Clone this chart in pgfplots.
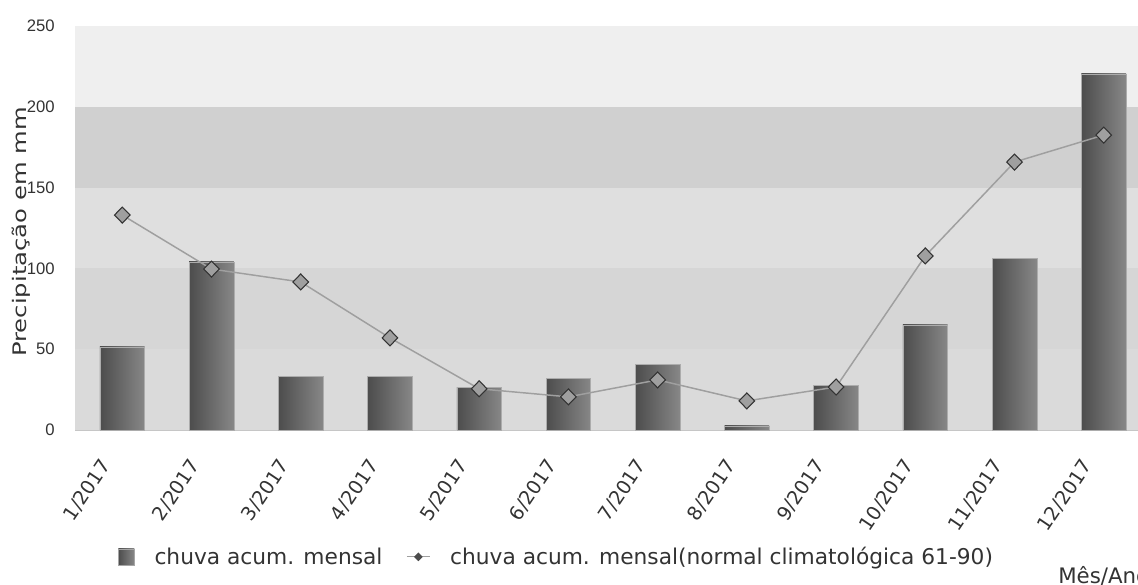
\documentclass[border=0pt]{standalone}
\usepackage{pgfplots}
\pgfplotsset{compat=1.18}
\usepackage{fontspec}
\setmainfont{DejaVu Sans}
\newfontfamily\lib{Liberation Sans}
\newfontfamily\dej{DejaVu Sans}
\usepackage{graphicx}
\definecolor{bandA}{HTML}{EFEFEF}
\definecolor{bandB}{HTML}{D0D0D0}
\definecolor{bandC}{HTML}{DFDFDF}
\definecolor{bandD}{HTML}{D6D6D6}
\definecolor{bandE}{HTML}{DADADA}
\definecolor{txt}{HTML}{333333}
\pgfplotsset{mybar/.style={ybar, bar width=0.5, bar shift=0pt, draw=gray!65, left color=black!70, right color=black!47}}
\begin{document}
\begin{tikzpicture}
\begin{axis}[
  at={(56.25pt,116.25pt)}, anchor=south west,
  scale only axis, width=807pt, height=303pt,
  xmin=-0.53, xmax=11.53, ymin=0, ymax=250,
  axis line style={draw=gray!45},
  major tick length=0pt,
  ytick={0,50,100,150,200,250},
  xtick={0,...,11},
  xticklabels={1/2017,2/2017,3/2017,4/2017,5/2017,6/2017,7/2017,8/2017,9/2017,10/2017,11/2017,12/2017},
  xticklabel style={font=\dej\fontsize{14.5}{16}\selectfont, text=txt, anchor=east, inner sep=0pt, xshift=-12pt, yshift=-24pt, rotate=56},
  yticklabel style={font=\lib\fontsize{12.5}{14}\selectfont, text=txt, anchor=east, inner sep=0pt, xshift=-15pt},
  /pgf/number format/assume math mode=true,
  ylabel={\scalebox{1.3}[1]{Precipitação em mm}},
  ylabel style={font=\dej\fontsize{14}{16}\selectfont, text=txt, at={(axis description cs:-0.05,0.49)}, anchor=center},
  legend style={at={(axis description cs:0.036,-0.314)}, anchor=west, draw=none, fill=none,
    font=\dej\fontsize{16.3}{18}\selectfont, text=txt, legend columns=2,
    /tikz/every odd column/.append style={column sep=13pt},
    /tikz/every even column/.append style={column sep=16pt}},
  legend cell align=left,
  clip=false,
]
\fill[bandE] (axis cs:-0.53,0) rectangle (axis cs:11.53,50);
\fill[bandD] (axis cs:-0.53,50) rectangle (axis cs:11.53,100);
\fill[bandC] (axis cs:-0.53,100) rectangle (axis cs:11.53,150);
\fill[bandB] (axis cs:-0.53,150) rectangle (axis cs:11.53,200);
\fill[bandA] (axis cs:-0.53,200) rectangle (axis cs:11.53,250);
\addplot[mybar, legend image code/.code={\draw[fill=black!58, draw=gray!70] (0pt,-6pt) rectangle (12pt,6pt);}] coordinates {(0,51.4)};
\addlegendentry{chuva acum. mensal}
\addplot[mybar, forget plot] coordinates {(1,104)};
\addplot[mybar, forget plot] coordinates {(2,33.4)};
\addplot[mybar, forget plot] coordinates {(3,33.2)};
\addplot[mybar, forget plot] coordinates {(4,26.5)};
\addplot[mybar, forget plot] coordinates {(5,32)};
\addplot[mybar, forget plot] coordinates {(6,40.8)};
\addplot[mybar, forget plot] coordinates {(7,2.5)};
\addplot[mybar, forget plot] coordinates {(8,27.8)};
\addplot[mybar, forget plot] coordinates {(9,65)};
\addplot[mybar, forget plot] coordinates {(10,106.4)};
\addplot[mybar, forget plot] coordinates {(11,220.3)};
\addplot[gray!75, line width=1.1pt, mark=diamond*, mark size=6pt,
  mark options={fill=gray!75, draw=black!80, line width=0.8pt, xscale=1.3},
  legend image code/.code={\draw[gray!75, line width=0.8pt] (0pt,0pt) -- (17pt,0pt);
     \fill[black!70] (8.5pt,2.5pt) -- (11pt,0pt) -- (8.5pt,-2.5pt) -- (6pt,0pt) -- cycle;}]
  coordinates {(0,133) (1,99.6) (2,91.6) (3,57) (4,25.5) (5,20.5) (6,31) (7,18) (8,26.6) (9,107.7) (10,165.8) (11,182.5)};
\addlegendentry{chuva acum. mensal(normal climatológica 61-90)}
\end{axis}
\node[anchor=base west, font=\dej\fontsize{16}{18}\selectfont, text=txt, inner sep=0pt] at (793.5pt,1.5pt) {Mês/Ano};
\pgfresetboundingbox
\useasboundingbox (0,0) rectangle (853.5pt,438.75pt);
\end{tikzpicture}
\end{document}
